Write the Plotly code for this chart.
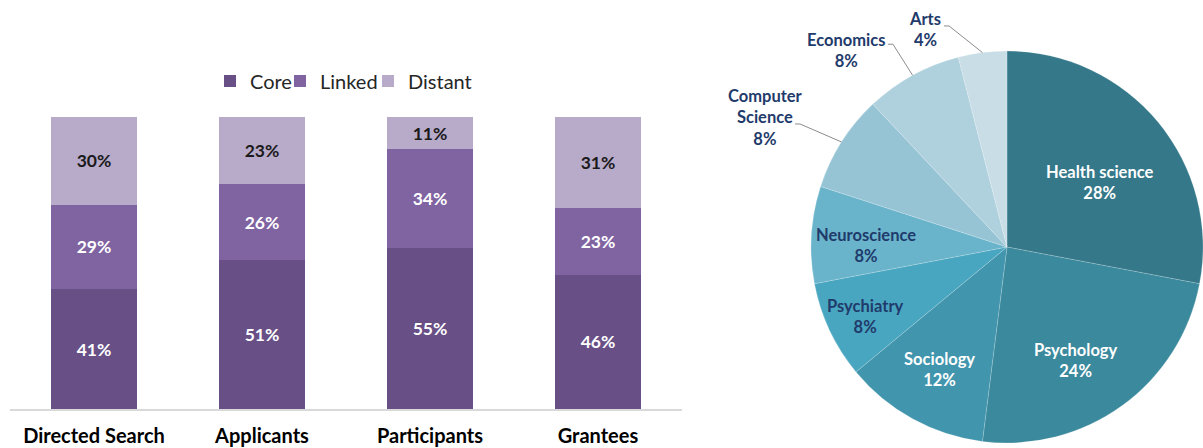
import math
import plotly.graph_objects as go

# ---------------- data ----------------
categories = ["Directed Search", "Applicants", "Participants", "Grantees"]
core = [41, 51, 55, 46]
linked = [29, 26, 34, 23]
distant = [30, 23, 11, 31]

fields = ["Health science", "Psychology", "Sociology", "Psychiatry",
          "Neuroscience", "Computer Science", "Economics", "Arts"]
shares = [28, 24, 12, 8, 8, 8, 8, 4]

# ---------------- styles ----------------
W, H = 1203, 448
FONT = "Lato"
bar_colors = {"Core": "#684f86", "Linked": "#8063a1", "Distant": "#b8aac9"}
bar_text_colors = {"Core": "white", "Linked": "white", "Distant": "#1a1a1a"}
legend_ids = {"Core": "legend", "Linked": "legend2", "Distant": "legend3"}
legend_x_px = {"Core": 210, "Linked": 280, "Distant": 368}
pie_colors = ["#34788a", "#3b899d", "#4195ad", "#49a6c0",
              "#6ab4cb", "#96c4d5", "#afd0dd", "#c8dde6"]
NAVY = "#1f3b6b"
# per slice label style: (kind, text colour, radius fraction, angle tweak) for inside,
# (kind, colour, label offset px, knee offset px) for outside
pie_label_style = [
    ("in", "white", 0.576, 5.0),
    ("in", "white", 0.678, 4.7),
    ("in", "white", 0.713, 0.0),
    ("in", NAVY, 0.806, -1.0),
    ("in", NAVY, 0.718, -3.1),
    ("out", NAVY, (-76.5, -24.0), (-41.5, -18.0)),
    ("out", NAVY, (-67.0, -25.0), (-19.6, -31.0)),
    ("out", NAVY, (-57.0, -22.6), (-33.4, -26.6)),
]
display_names = {"Computer Science": "Computer<br>Science"}

bar_dom_x = [10 / W, 682 / W]
bar_dom_y = [1 - 409 / H, 1 - 117 / H]
pie_dom_x = [811 / W, 1.0]
pie_dom_y = [5 / H, 397 / H]

fig = go.Figure()

for name, vals in (("Core", core), ("Linked", linked), ("Distant", distant)):
    fig.add_trace(go.Bar(
        name=name, x=categories, y=vals,
        marker=dict(color=bar_colors[name], line=dict(width=0)),
        text=[f"{v}%" for v in vals],
        textposition="inside", insidetextanchor="middle",
        textfont=dict(family=FONT, size=17.5, color=bar_text_colors[name], weight="bold"),
        constraintext="none",
        hoverinfo="skip",
        legend=legend_ids[name],
    ))

fig.add_trace(go.Pie(
    labels=fields, values=shares, sort=False, direction="clockwise", rotation=0,
    marker=dict(colors=pie_colors, line=dict(color="rgba(255,255,255,0.18)", width=1)),
    textinfo="none", showlegend=False, hoverinfo="skip",
    domain=dict(x=pie_dom_x, y=pie_dom_y),
))

# ---------- pie labels, placed from the slice angles ----------
cx = (pie_dom_x[0] + pie_dom_x[1]) / 2 * W
cy = H - (pie_dom_y[0] + pie_dom_y[1]) / 2 * H
r = min((pie_dom_x[1] - pie_dom_x[0]) * W, (pie_dom_y[1] - pie_dom_y[0]) * H) / 2
total = sum(shares)


def px2paper(x, y):
    return x / W, 1 - y / H


annotations = []
shapes = []
cum = 0
for name, v, st in zip(fields, shares, pie_label_style):
    mid = (cum + v / 2) / total * 360.0
    cum += v
    txt = f"<b>{display_names.get(name, name)}</b><br><b>{v}%</b>"
    font = dict(family=FONT, size=16.5, color=st[1])
    if st[0] == "in":
        th = math.radians(mid + st[3])
        rho = st[2] * r
        x, y = cx + rho * math.sin(th), cy - rho * math.cos(th)
        px, py = px2paper(x, y)
        annotations.append(dict(x=px, y=py, xref="paper", yref="paper", text=txt,
                                showarrow=False, font=font, align="center",
                                xanchor="center", yanchor="middle"))
    else:
        th = math.radians(mid)
        ex, ey = cx + r * math.sin(th), cy - r * math.cos(th)
        lx, ly = ex + st[2][0], ey + st[2][1]
        kx, ky = ex + st[3][0], ey + st[3][1]
        px, py = px2paper(lx, ly)
        annotations.append(dict(x=px, y=py, xref="paper", yref="paper", text=txt,
                                showarrow=False, font=font, align="center",
                                xanchor="center", yanchor="middle"))
        p1 = px2paper(ex, ey)
        p2 = px2paper(kx, ky)
        p3 = px2paper(kx - 5, ky)
        shapes.append(dict(type="path", xref="paper", yref="paper",
                           path=f"M {p1[0]},{p1[1]} L {p2[0]},{p2[1]} L {p3[0]},{p3[1]}",
                           line=dict(color="#8c8c8c", width=1)))


def legend_cfg(name):
    return dict(orientation="h", x=legend_x_px[name] / W, y=1 - 81 / H,
                xanchor="left", yanchor="middle",
                font=dict(family=FONT, size=20, color="#262626"),
                itemclick=False, itemdoubleclick=False,
                bgcolor="rgba(0,0,0,0)")


fig.update_layout(
    width=W, height=H,
    margin=dict(l=0, r=0, t=0, b=0, autoexpand=False),
    paper_bgcolor="white", plot_bgcolor="white",
    barmode="stack", bargap=0.488,
    showlegend=True,
    legend=legend_cfg("Core"),
    legend2=legend_cfg("Linked"),
    legend3=legend_cfg("Distant"),
    xaxis=dict(domain=bar_dom_x, range=[-0.5, 3.5], showline=True, linecolor="#d9d9d9",
               linewidth=2, showgrid=False, zeroline=False, ticks="",
               ticklabelstandoff=8, automargin=False,
               tickfont=dict(family=FONT, size=20, color="black", weight="bold"),
               fixedrange=True),
    yaxis=dict(domain=bar_dom_y, range=[0, 100], visible=False, fixedrange=True,
               automargin=False),
    annotations=annotations,
    shapes=shapes,
)

fig.write_html("out.html")
